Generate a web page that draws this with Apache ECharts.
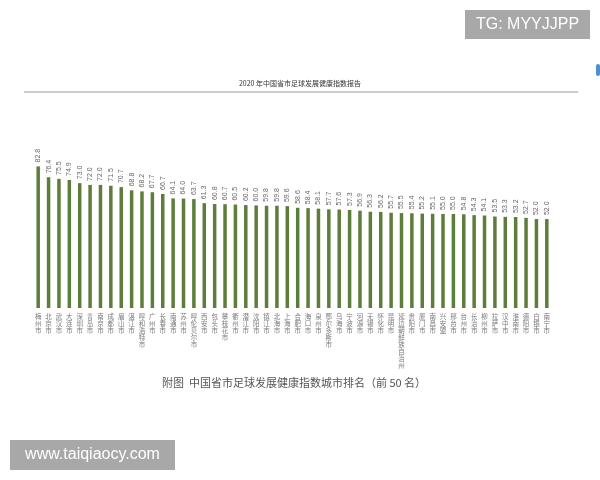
<!DOCTYPE html>
<html>
<head>
<meta charset="utf-8">
<script src="https://cdn.jsdelivr.net/npm/echarts@6/dist/echarts.min.js"></script>
<style>html,body{margin:0;padding:0;background:#fff;}#c{width:600px;height:480px;}</style>
</head>
<body>
<div id="c"></div>
<script>
const cities = ['梅州市','北京市','武汉市','大连市','深圳市','青岛市','南京市','成都市','眉山市','湛江市',
'呼和浩特市','广州市','长春市','南通市','苏州市','呼伦贝尔市','西安市','包头市','攀枝花市','衢州市',
'潜江市','沈阳市','镇江市','北海市','上海市','合肥市','海口市','泉州市','鄂尔多斯市','乌海市',
'宁波市','河源市','无锡市','怀化市','昆明市','延边朝鲜族自治州','贵阳市','厦门市','南昌市','兴安盟',
'邢台市','台州市','长治市','柳州市','拉萨市','汉中市','淮南市','德阳市','白银市','南宁市'];
const scores = [82.8,76.4,75.5,74.9,73.0,72.0,72.0,71.5,70.7,68.8,
68.2,67.7,66.7,64.1,64.0,63.7,61.3,60.8,60.7,60.5,
60.2,60.0,59.8,59.8,59.6,58.6,58.4,58.1,57.7,57.6,
57.3,56.9,56.3,56.2,55.7,55.5,55.4,55.2,55.1,55.0,
55.0,54.8,54.3,54.1,53.5,53.3,53.2,52.7,52.0,52.0];
const headerText = '2020 年中国省市足球发展健康指数报告';
const captionText = '附图  中国省市足球发展健康指数城市排名（前 50 名）';

const chart = echarts.init(document.getElementById('c'), null, {renderer:'canvas'});
chart.setOption({
  backgroundColor: '#ffffff',
  animation: false,
  grid: {left: 33, right: 48, top: 137, bottom: 172, containLabel: false},
  xAxis: {
    type: 'category',
    data: cities,
    axisLine: {show: false},
    axisTick: {show: false},
    axisLabel: {
      interval: 0,
      rotate: 0,
      hideOverlap: false,
      margin: 5,
      fontSize: 6.5,
      lineHeight: 7,
      color: '#7a7a7a',
      fontFamily: 'Noto Sans CJK SC',
      align: 'center',
      verticalAlign: 'top',
      formatter: v => v.split('').join('\n')
    }
  },
  yAxis: {
    type: 'value', min: 0, max: 100,
    show: false,
    splitLine: {show: false}
  },
  series: [{
    type: 'bar',
    data: scores,
    barWidth: 3.5,
    itemStyle: {color: '#5d7d3b'},
    label: {
      show: true,
      position: 'top',
      rotate: 90,
      align: 'left',
      verticalAlign: 'middle',
      distance: 4,
      fontSize: 7,
      color: '#666',
      fontFamily: 'Liberation Sans',
      formatter: p => p.value.toFixed(1)
    }
  }],
  graphic: [
    {type:'text', left:'center', top:80, style:{text: headerText, fontSize:7, fill:'#333', fontFamily:'Noto Sans CJK SC'}},
    {type:'line', shape:{x1:24, y1:92, x2:578, y2:92}, style:{stroke:'#9a9a9a', lineWidth:1.2}},
    {type:'text', left:162, top:377, style:{text: captionText, fontSize:11, fill:'#555', fontFamily:'Noto Sans CJK SC'}},
    {type:'rect', shape:{x:465, y:10, width:125, height:29}, style:{fill:'#a8a8a8'}},
    {type:'text', x:527.5, y:25, style:{text:'TG: MYYJJPP', fontSize:16, fill:'#fff', fontFamily:'Liberation Sans', align:'center', verticalAlign:'middle'}},
    {type:'rect', shape:{x:10, y:440, width:165, height:30}, style:{fill:'#a8a8a8'}},
    {type:'text', x:92.5, y:455, style:{text:'www.taiqiaocy.com', fontSize:16, fill:'#fff', fontFamily:'Liberation Sans', align:'center', verticalAlign:'middle'}},
    {type:'rect', shape:{x:596, y:64, width:4, height:12, r:2}, style:{fill:'#4a90d9'}}
  ]
});
</script>
</body>
</html>
